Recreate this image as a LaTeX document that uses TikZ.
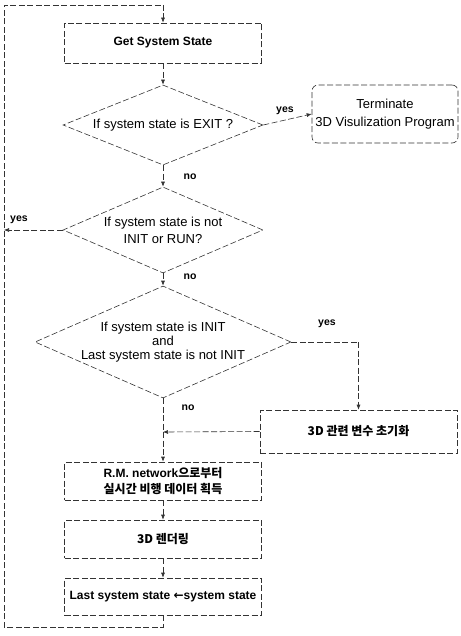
\documentclass[tikz,border=0pt]{standalone}
\usepackage{fontspec}
\setmainfont{Liberation Sans}
\newfontfamily\krfont{Noto Sans CJK KR}
\newfontfamily\arrowfont{DejaVu Sans}
\usetikzlibrary{shapes.geometric,arrows.meta}
\begin{document}
\begin{tikzpicture}[x=1pt,y=-1pt,
  line/.style={draw=black!80, line width=0.6pt, dash pattern=on 6pt off 2.5pt},
  arr/.style={line, -{Latex[length=5pt,width=4pt]}},
  procbox/.style={line, rectangle, minimum width=197pt, minimum height=38pt, inner sep=2pt,
    font=\fontsize{12}{16}\selectfont\bfseries, align=center},
  decision/.style={line, diamond, inner sep=0pt, font=\fontsize{13}{17}\selectfont, align=center},
  lbl/.style={font=\fontsize{10.5}{12}\selectfont\bfseries, inner sep=1pt}]
\useasboundingbox (0,0) rectangle (460,636);

% process boxes
\node[procbox, minimum height=40pt] (get) at (163,43) {Get System State};
\node[procbox, minimum width=146pt, minimum height=58pt, rounded corners=6pt,
  font=\fontsize{13}{18}\selectfont] (term) at (385,114) {Terminate\\3D Visulization Program};
\node[procbox, minimum height=43pt] (init) at (358.5,431.5) {\krfont\bfseries 3D 관련 변수 초기화};
\node[procbox] (rm) at (163,481) {R.M. network{\krfont\bfseries 으로부터}\\{\krfont\bfseries 실시간 비행 데이터 획득}};
\node[procbox] (render) at (163,539) {{\krfont\bfseries 3D 렌더링}};
\node[procbox, minimum height=37pt] (last) at (163,596.5) {Last system state {\arrowfont\bfseries ←}system state};

% decisions
\node[decision, aspect=2.5, minimum width=200pt, minimum height=80pt] (d1) at (163,125) {If system state is EXIT ?};
\node[decision, aspect=2.33, minimum width=200pt, minimum height=86pt] (d2) at (163,230) {If system state is not\\INIT or RUN?};
\node[decision, aspect=2.29, minimum width=256pt, minimum height=112pt, font=\fontsize{13}{14}\selectfont] (d3) at (163,342)
  {If system state is INIT\\and\\Last system state is not INIT};

% helper coordinates
\coordinate (lb) at (4,627);
\coordinate (lt) at (4,5);
\coordinate (ct) at (163,5);
\coordinate (jn) at (163,432);

% connectors
\draw[arr] (get) -- (d1);
\draw[arr] (d1.east) -- (term.west);
\draw[arr] (d1.south) -- (d2.north);
\draw[arr] (d2.west) -- (d2.west -| lt);
\draw[arr] (d2.south) -- (d3.north);
\draw[line] (d3.east) -- (d3.east -| init.north);
\draw[arr] (d3.east -| init.north) -- (init.north);
\draw[line] (d3.south) -- (jn);
\draw[arr] (init.west) -- (jn);
\draw[arr] (jn) -- (rm.north);
\draw[arr] (rm) -- (render);
\draw[arr] (render) -- (last);
\draw[line] (last.south) -- (last.south |- lb) -- (lb) -- (lt) -- (ct);
\draw[arr] (ct) -- (get.north);

% labels
\node[lbl] (y1) at (285,111) {yes};
\node[lbl] (n1) at (190,177) {no};
\node[lbl] (y2) at (19,220) {yes};
\node[lbl] (n2) at (190,277) {no};
\node[lbl] (y3) at (327,324) {yes};
\node[lbl] (n3) at (188,408) {no};
\end{tikzpicture}
\end{document}
